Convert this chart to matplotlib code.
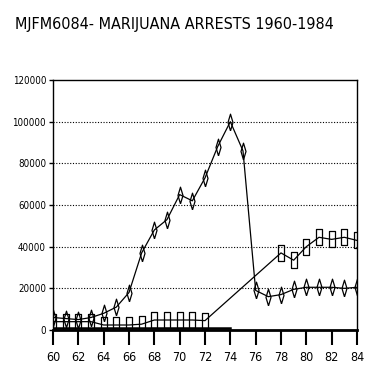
import numpy as np
import matplotlib.pyplot as plt

# data
years_a = list(range(60, 85))
arrests_a = [6000, 5500, 5000, 6000, 8000, 11000, 18000, 37000, 48000, 53000,
             65000, 62000, 73000, 88000, 100000, 86000, 19000, 16000, 17000, 19500,
             20500, 20500, 20500, 20000, 20500]

years_b = [60, 61, 62, 63, 64, 65, 66, 67, 68, 69, 70, 71, 72, 78, 79, 80, 81, 82, 83, 84]
arrests_b = [4000, 4000, 4000, 4000, 2400, 2400, 2400, 2800, 4800, 4800,
             4800, 4800, 4500, 37000, 33500, 40000, 44500, 43500, 44500, 43000]

years_c = list(range(60, 75))
arrests_c = [1000] * 15

xticks = list(range(60, 85, 2))
yticks = [0, 20000, 40000, 60000, 80000, 100000, 120000]

fig = plt.figure(figsize=(3.74, 3.70), dpi=100)
ax = fig.add_axes([0.1417, 0.1081, 0.8128, 0.6757])

# tall thin markers like the old plotter output
diamond = [(0, -1), (0.3, 0), (0, 1), (-0.3, 0), (0, -1)]
rect = [(-0.4, -1), (0.4, -1), (0.4, 1), (-0.4, 1), (-0.4, -1)]

ax.plot(years_c, arrests_c, color='k', lw=1.8)
ax.plot(years_a, arrests_a, color='k', lw=0.9, marker=diamond, ms=12,
        mfc='none', mec='k', mew=0.9)
ax.plot(years_b, arrests_b, color='k', lw=0.9, marker=rect, ms=11,
        mfc='none', mec='k', mew=0.9)

ax.set_xlim(60, 84)
ax.set_ylim(0, 120000)
ax.set_xticks(xticks)
ax.set_xticklabels([str(x) for x in xticks], fontsize=9, fontstretch='condensed')
ax.set_yticks(yticks)
ax.set_yticklabels([str(y) for y in yticks], fontsize=7, fontstretch='condensed')
ax.tick_params(axis='x', direction='out', length=11, width=1.5, pad=4)
ax.tick_params(axis='y', direction='out', length=3, width=1, pad=2)

for y in yticks[1:-1]:
    ax.axhline(y, color='k', lw=0.8, ls=(0, (1, 1.5)), zorder=0)

for s in ax.spines.values():
    s.set_color('k')
    s.set_linewidth(1)
ax.spines['bottom'].set_linewidth(2)

fig.text(0.04, 0.935, 'MJFM6084- MARIJUANA ARRESTS 1960-1984',
         fontsize=11.5, fontstretch='condensed', va='center', ha='left')

fig.savefig('out.png', dpi=100)
